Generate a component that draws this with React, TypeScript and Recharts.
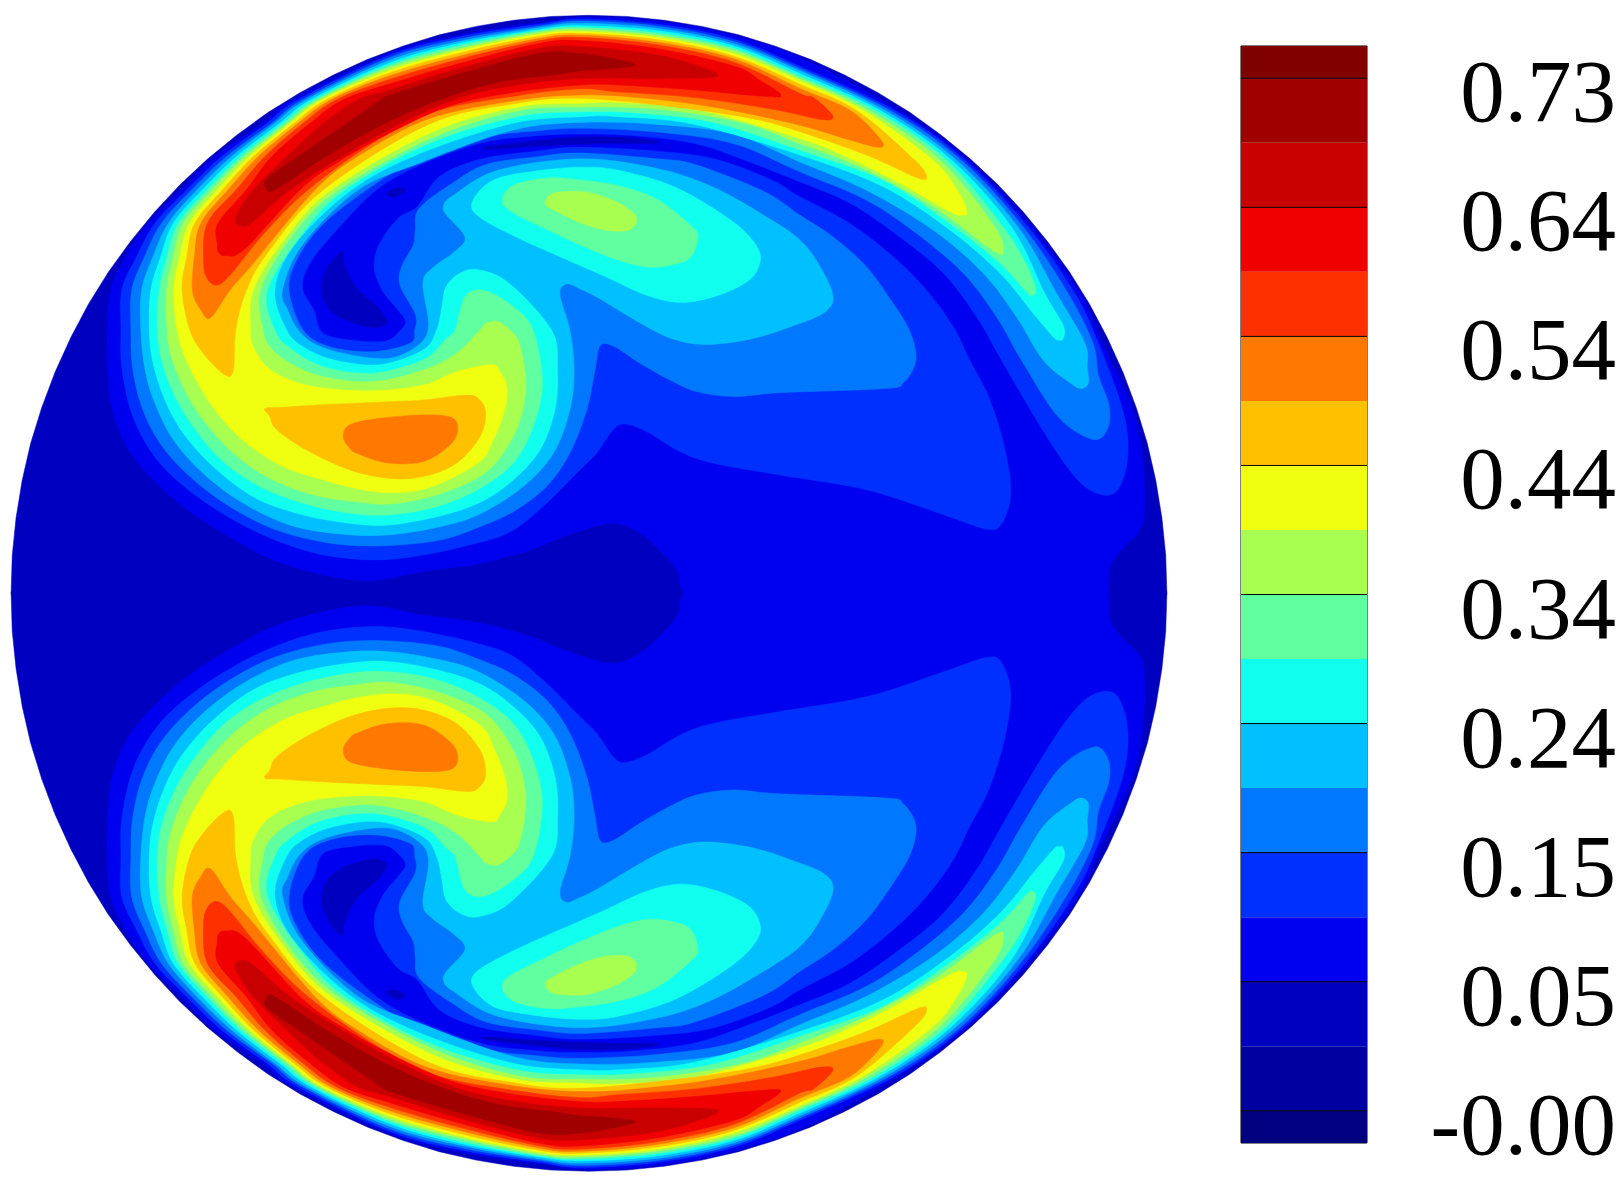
import React from 'react';
import { BarChart, Bar, ScatterChart, Scatter, XAxis, YAxis, ReferenceLine, ReferenceArea } from 'recharts';

type Pt = number[];

// contour outlines of the upper half, the lower half is its mirror image
const diskEdge: Pt[] = [[29,1550],[32,1451],[42,1353],[58,1255],[80,1159],[109,1065],[144,972],[185,882],[231,795],[283,711],[341,631],[404,554],[471,482],[543,415],[620,352],[700,294],[784,242],[871,196],[961,155],[1054,120],[1148,91],[1244,69],[1342,53],[1440,43],[1539,40],[1638,43],[1736,53],[1834,69],[1930,91],[2024,120],[2117,155],[2207,196],[2294,242],[2378,294],[2458,352],[2535,415],[2607,482],[2674,554],[2737,631],[2795,711],[2847,795],[2893,882],[2934,972],[2969,1065],[2998,1159],[3020,1255],[3036,1353],[3046,1451],[3049,1550],[3040,1580],[40,1580]];

const level3: Pt[] = [[1786,1550],[1768,1489],[1724,1437],[1672,1393],[1602,1367],[1498,1393],[1385,1437],[1254,1472],[1106,1493],[971,1517],[845,1502],[714,1463],[583,1393],[479,1324],[392,1245],[331,1167],[296,1080],[283,993],[280,862],[289,758],[328,670],[387,583],[475,496],[562,409],[685,322],[765,261],[1019,139],[1211,89],[1411,59],[1539,45],[1736,58],[1928,96],[2112,160],[2351,290],[2530,420],[2695,593],[2822,767],[2880,897],[2956,1060],[2986,1200],[2991,1330],[2976,1390],[2936,1430],[2901,1480],[2896,1550],[2890,1590],[2800,1600],[2400,1600],[2000,1600],[1790,1590]];
const coreSpiral: Pt[] = [[895,655],[900,690],[930,750],[985,800],[1010,835],[1005,850],[970,855],[900,835],[855,800],[840,750],[855,700]];
const coreStrip: Pt[] = [[1265,385],[1400,368],[1516,358],[1650,360],[1720,373],[1568,375],[1400,382],[1290,390]];
const coreFleck: Pt[] = [[1010,505],[1040,490],[1060,498],[1030,515]];

const level4: Pt[] = [[975,1463],[1106,1450],[1254,1417],[1341,1385],[1428,1315],[1515,1228],[1559,1184],[1602,1123],[1633,1108],[1690,1128],[1777,1180],[1864,1210],[2038,1241],[2266,1280],[2466,1345],[2576,1382],[2616,1370],[2641,1290],[2625,1170],[2585,1040],[2534,941],[2491,854],[2421,758],[2334,671],[2221,584],[2090,514],[2016,470],[1866,415],[1716,395],[1516,385],[1400,395],[1260,415],[1150,460],[1090,540],[1040,570],[990,640],[978,700],[1000,760],[1040,810],[1060,840],[1045,865],[1010,890],[932,890],[845,871],[820,810],[790,750],[815,680],[890,590],[984,496],[1100,430],[1260,373],[1400,355],[1516,350],[1666,355],[1816,375],[1950,420],[2090,475],[2221,531],[2351,619],[2465,714],[2552,828],[2617,941],[2716,1110],[2796,1230],[2856,1285],[2916,1285],[2946,1200],[2936,1080],[2870,897],[2809,767],[2687,593],[2521,418],[2338,288],[2090,173],[1916,102],[1716,63],[1516,50],[1411,63],[1211,94],[1019,144],[778,261],[697,322],[579,409],[488,496],[405,583],[357,670],[318,758],[316,862],[318,958],[344,1080],[392,1176],[461,1254],[566,1332],[688,1398],[827,1446]];

const level5: Pt[] = [[1001,1426],[1150,1411],[1254,1376],[1341,1337],[1428,1271],[1489,1184],[1533,1071],[1555,966],[1568,904],[1602,904],[1672,949],[1750,993],[1820,1023],[1916,1036],[2038,1026],[2316,1015],[2360,1000],[2388,960],[2393,920],[2375,860],[2334,793],[2264,697],[2177,619],[2090,562],[1996,500],[1816,430],[1716,415],[1516,400],[1400,410],[1270,430],[1180,480],[1095,545],[1085,600],[1080,640],[1050,695],[1045,745],[1085,820],[1084,862],[1071,897],[975,919],[862,906],[792,862],[755,758],[775,680],[840,590],[958,496],[1100,410],[1270,358],[1400,342],[1516,335],[1716,345],[1916,375],[2090,449],[2264,523],[2395,610],[2517,714],[2604,828],[2669,941],[2766,1090],[2856,1148],[2894,1120],[2898,1060],[2870,980],[2856,897],[2791,767],[2674,593],[2512,418],[2325,288],[2090,179],[1916,108],[1716,68],[1516,55],[1411,68],[1211,100],[1019,150],[790,261],[710,322],[592,409],[501,496],[422,583],[378,670],[344,758],[342,862],[346,958],[370,1062],[418,1158],[496,1245],[601,1324],[723,1385],[862,1419]];

const level6: Pt[] = [[1010,1398],[888,1395],[758,1372],[636,1315],[531,1237],[453,1149],[405,1054],[379,967],[368,862],[370,758],[400,670],[440,583],[515,496],[605,409],[718,322],[800,261],[1019,157],[1211,106],[1411,72],[1516,61],[1716,74],[1916,114],[2090,185],[2312,288],[2499,418],[2660,593],[2761,767],[2835,897],[2841,960],[2844,1000],[2826,1015],[2796,1000],[2726,941],[2656,828],[2569,714],[2438,601],[2264,497],[2090,423],[1916,350],[1716,325],[1516,320],[1340,340],[1100,425],[936,496],[790,640],[738,758],[752,810],[779,862],[827,901],[914,927],[1019,936],[1095,900],[1120,850],[1105,740],[1130,700],[1185,660],[1215,620],[1165,560],[1160,535],[1185,510],[1300,445],[1516,415],[1716,440],[1866,490],[2016,575],[2090,627],[2136,685],[2176,770],[2156,815],[2076,850],[1966,885],[1846,900],[1756,885],[1666,840],[1566,780],[1516,755],[1480,742],[1463,770],[1489,862],[1500,966],[1489,1071],[1446,1184],[1367,1271],[1254,1343],[1150,1376]];

const level7: Pt[] = [[1010,1372],[897,1365],[775,1341],[662,1298],[557,1219],[479,1132],[431,1045],[400,949],[390,862],[394,758],[420,670],[453,583],[529,496],[618,409],[731,322],[812,261],[1019,164],[1211,111],[1411,77],[1516,67],[1716,80],[1916,120],[2090,192],[2299,288],[2486,418],[2643,593],[2730,767],[2778,850],[2778,885],[2766,888],[2752,880],[2700,819],[2613,714],[2482,601],[2308,488],[2090,405],[1816,325],[1616,305],[1516,305],[1340,322],[1100,400],[919,496],[770,640],[718,758],[749,862],[792,906],[871,940],[993,953],[1106,914],[1141,862],[1155,800],[1165,750],[1200,715],[1250,705],[1330,740],[1441,862],[1457,966],[1450,1071],[1411,1176],[1341,1254],[1254,1313],[1141,1350]];
const island7: Pt[] = [[1235,525],[1290,470],[1400,447],[1516,437],[1616,445],[1766,490],[1916,580],[1981,650],[1981,700],[1946,740],[1866,775],[1776,790],[1686,770],[1576,720],[1450,665],[1350,620],[1250,565]];

const level8: Pt[] = [[1019,1345],[914,1341],[792,1315],[679,1271],[583,1206],[505,1115],[453,1027],[422,940],[412,862],[416,758],[437,670],[466,583],[542,496],[629,409],[740,322],[822,261],[1019,170],[1211,117],[1411,80],[1516,72],[1716,86],[1916,126],[2090,199],[2286,288],[2473,418],[2621,593],[2681,690],[2706,755],[2696,772],[2682,762],[2613,688],[2482,584],[2308,471],[2090,392],[1866,320],[1666,295],[1516,292],[1350,305],[1120,375],[901,496],[790,610],[699,758],[718,862],[758,910],[845,958],[975,975],[1106,940],[1163,888],[1189,862],[1205,800],[1225,765],[1270,760],[1340,800],[1393,862],[1417,1001],[1393,1115],[1341,1210],[1254,1276],[1141,1324]];
const island8: Pt[] = [[1516,470],[1616,485],[1716,520],[1806,590],[1824,620],[1806,670],[1766,690],[1696,698],[1616,680],[1516,640],[1420,595],[1340,555],[1312,525],[1340,485],[1430,465]];

const level9: Pt[] = [[1019,1317],[932,1311],[819,1293],[705,1250],[610,1184],[531,1097],[483,1019],[448,932],[437,862],[435,758],[453,670],[479,583],[554,496],[640,409],[751,322],[832,261],[1019,176],[1211,124],[1411,84],[1516,77],[1716,92],[1916,132],[2090,205],[2269,288],[2456,418],[2600,593],[2621,660],[2604,660],[2569,636],[2438,540],[2264,444],[2090,375],[1936,320],[1716,285],[1516,280],[1350,290],[1130,360],[884,496],[760,620],[681,758],[688,862],[705,906],[758,949],[845,984],[975,997],[1106,967],[1193,923],[1254,862],[1270,845],[1300,840],[1332,862],[1357,897],[1374,1001],[1359,1097],[1315,1184],[1254,1245],[1141,1293]];
const island9: Pt[] = [[1516,500],[1566,510],[1626,535],[1663,568],[1646,600],[1586,602],[1516,582],[1440,545],[1425,530],[1445,505]];

const level10: Pt[] = [[1045,1287],[949,1280],[845,1254],[740,1219],[644,1158],[575,1088],[522,1010],[483,932],[463,862],[454,758],[470,670],[495,583],[568,496],[651,409],[758,322],[840,261],[1019,183],[1211,129],[1411,89],[1516,82],[1716,97],[1916,139],[2090,211],[2255,288],[2438,418],[2506,505],[2526,553],[2517,562],[2482,553],[2351,479],[2221,414],[2090,362],[1816,285],[1616,268],[1516,270],[1350,280],[1130,345],[866,496],[740,630],[662,758],[655,862],[662,906],[697,958],[758,993],[845,1014],[975,1021],[1106,1006],[1193,971],[1284,953],[1306,971],[1324,1010],[1319,1071],[1289,1149],[1254,1206],[1141,1267]];

const level11: Pt[] = [[588,980],[531,923],[496,862],[476,758],[488,670],[509,583],[581,496],[662,409],[768,322],[852,261],[1019,190],[1211,136],[1411,94],[1516,87],[1716,103],[1916,146],[2090,220],[2238,288],[2390,418],[2421,462],[2395,464],[2264,405],[2090,344],[1966,310],[1766,280],[1516,257],[1350,270],[1120,325],[845,496],[700,660],[644,758],[616,862],[610,966]];
const lobe11: Pt[] = [[692,1067],[740,1064],[850,1057],[1000,1050],[1106,1045],[1219,1032],[1254,1045],[1269,1080],[1254,1141],[1193,1210],[1106,1245],[1019,1250],[914,1228],[801,1176],[723,1123],[705,1088]];

const level12: Pt[] = [[503,760],[508,670],[525,583],[596,496],[675,409],[779,322],[864,261],[1019,198],[1211,144],[1411,100],[1516,92],[1716,110],[1916,153],[2090,231],[2221,288],[2299,362],[2299,385],[2221,366],[2090,327],[1866,280],[1666,255],[1516,248],[1350,262],[1120,310],[940,405],[823,496],[660,690],[601,758],[550,830],[525,810]];
const lobe12: Pt[] = [[897,1142],[914,1110],[993,1093],[1106,1084],[1180,1091],[1196,1123],[1176,1162],[1106,1206],[1010,1209],[932,1184],[914,1171]];

const level13: Pt[] = [[532,680],[542,583],[617,496],[692,409],[792,322],[878,261],[1019,207],[1211,152],[1411,106],[1516,98],[1716,117],[1916,162],[2090,244],[2126,255],[2176,303],[2146,312],[2016,285],[1816,255],[1616,240],[1516,232],[1350,250],[1140,290],[980,370],[805,496],[690,610],[600,720],[565,745],[540,725]];
const level14: Pt[] = [[568,640],[570,583],[644,496],[710,409],[810,322],[896,261],[1019,219],[1211,163],[1411,113],[1516,106],[1716,127],[1916,172],[1986,210],[2041,250],[1976,250],[1816,235],[1616,222],[1516,222],[1350,240],[1180,275],[1019,347],[880,425],[784,496],[640,650],[590,668],[572,660]];
const level15: Pt[] = [[615,570],[662,496],[749,409],[845,322],[935,261],[1019,235],[1211,176],[1411,126],[1516,122],[1696,140],[1816,170],[1874,200],[1716,205],[1516,205],[1350,222],[1200,255],[1050,320],[900,405],[758,496],[660,580],[630,590]];
const level16: Pt[] = [[695,490],[700,465],[779,409],[906,322],[995,261],[1019,248],[1211,190],[1411,139],[1516,140],[1586,150],[1661,170],[1566,182],[1516,185],[1450,195],[1300,215],[1150,260],[1000,325],[850,410],[720,495]];

// legend, bottom to top
const bandColors = ['#000080','#0000a0','#0000c0','#0000f0','#0030ff','#0078ff','#00c0ff','#10ffee','#60ffa0','#a8ff50','#f0ff10','#ffc000','#ff7800','#ff3000','#f00000','#c80000','#a00000','#800000'];
const bandHeights = [0.5,1,1,1,1,1,1,1,1,1,1,1,1,1,1,1,1,0.5];
const legendTicks = [0.5,2.5,4.5,6.5,8.5,10.5,12.5,14.5,16.5];
const legendLabels = ['-0.00','0.05','0.15','0.24','0.34','0.44','0.54','0.64','0.73'];

const layers: [Pt[], number, boolean][] = [
  [diskEdge, 2, false],
  [level3, 3, true],
  [coreSpiral, 2, true],
  [coreStrip, 2, true],
  [coreFleck, 2, true],
  [level4, 4, true],
  [level5, 5, true],
  [level6, 6, true],
  [level7, 7, true],
  [island7, 7, true],
  [level8, 8, true],
  [island8, 8, true],
  [level9, 9, true],
  [island9, 9, true],
  [level10, 10, true],
  [level11, 11, true],
  [lobe11, 11, true],
  [level12, 12, true],
  [lobe12, 12, true],
  [level13, 13, true],
  [level14, 14, true],
  [level15, 15, true],
  [level16, 16, true],
];

const toRows = (pts: Pt[]) => pts.map(([x, y]) => ({ x, y }));

// closed catmull-rom through the contour points
function contourPath(p: { x: number; y: number }[], smooth: boolean) {
  if (!smooth) return 'M' + p.map((q) => `${q.x},${q.y}`).join('L') + 'Z';
  const n = p.length;
  let d = `M${p[0].x},${p[0].y}`;
  for (let i = 0; i < n; i++) {
    const a = p[(i - 1 + n) % n], b = p[i], c = p[(i + 1) % n], e = p[(i + 2) % n];
    d += `C${b.x + (c.x - a.x) / 6},${b.y + (c.y - a.y) / 6} ${c.x - (e.x - b.x) / 6},${c.y - (e.y - b.y) / 6} ${c.x},${c.y}`;
  }
  return d + 'Z';
}

const noDot = () => <g />;

export default function App() {
  const series = layers.flatMap(([pts, band, smooth], i) =>
    ['top', 'mirror'].map((axis) => (
      <Scatter
        key={`${axis}-${i}`}
        data={toRows(pts)}
        yAxisId={axis}
        shape={noDot}
        isAnimationActive={false}
        line={(props: any) => (
          <path d={contourPath(props.points, smooth)} fill={bandColors[band]} stroke={bandColors[band]} strokeWidth={0.5} />
        )}
      />
    ))
  );

  return (
    <div style={{ position: 'absolute', left: 0, top: 0, width: 1620, height: 1185, background: '#fff' }}>
      <div style={{ position: 'absolute', left: 0, top: 0 }}>
        <ScatterChart width={1620} height={1185} margin={{ top: 0, right: 0, bottom: 0, left: 0 }}>
          <XAxis dataKey="x" type="number" domain={[0, 4233]} hide allowDataOverflow />
          <YAxis yAxisId="top" dataKey="y" type="number" domain={[0, 3096]} reversed hide allowDataOverflow />
          <YAxis yAxisId="mirror" dataKey="y" type="number" domain={[4, 3100]} hide allowDataOverflow />
          {series}
        </ScatterChart>
      </div>
      <div style={{ position: 'absolute', left: 0, top: 0 }}>
        <BarChart
          width={1620}
          height={1185}
          data={[Object.fromEntries(bandHeights.map((h, i) => [`band${i}`, h]))]}
          margin={{ top: 46, right: 0, bottom: 42, left: 1241 }}
          barCategoryGap={0}
        >
          <XAxis hide />
          <YAxis
            orientation="right"
            width={253}
            type="number"
            domain={[0, 17]}
            ticks={legendTicks}
            interval={0}
            axisLine={false}
            tickLine={false}
            tick={(props: any) => (
              <text
                x={props.x + 241}
                y={props.y + 43}
                textAnchor="end"
                fontFamily="'Liberation Serif'"
                fontSize={89}
                fill="#000"
              >
                {legendLabels[legendTicks.indexOf(props.payload.value)]}
              </text>
            )}
          />
          {bandHeights.map((_, i) => (
            <Bar key={i} dataKey={`band${i}`} stackId="legend" fill={bandColors[i]} isAnimationActive={false} />
          ))}
          {legendTicks.map((t) => (
            <ReferenceLine key={t} y={t} stroke="#000" strokeWidth={1} />
          ))}
          <ReferenceArea y1={0} y2={17} fill="none" stroke="#000" strokeWidth={1} />
        </BarChart>
      </div>
    </div>
  );
}
